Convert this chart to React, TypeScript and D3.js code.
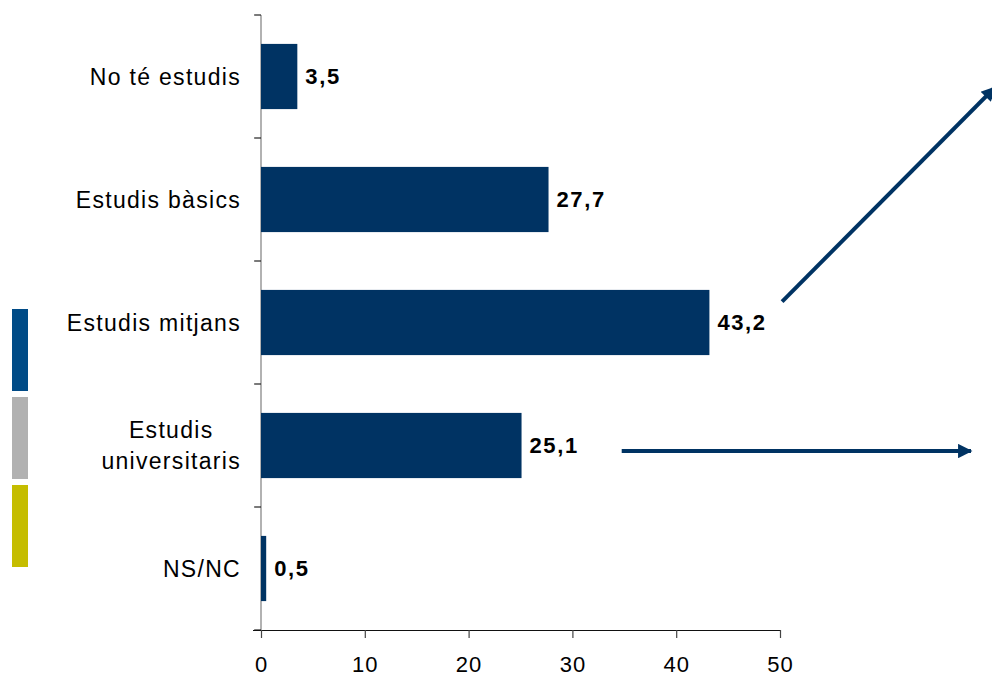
import React, { useEffect, useRef } from "react";
import * as d3 from "d3";

const categories = [
  "No té estudis",
  "Estudis bàsics",
  "Estudis mitjans",
  "Estudis\nuniversitaris",
  "NS/NC",
];
const values = [3.5, 27.7, 43.2, 25.1, 0.5];
const xTicks = [0, 10, 20, 30, 40, 50];
const legendColors = ["#004b87", "#b1b1b1", "#c5bd00"];

export default function App() {
  const ref = useRef<SVGSVGElement>(null);

  useEffect(() => {
    if (!ref.current) return;
    const width = 992;
    const height = 678;
    const margin = { top: 15, right: 212, bottom: 48, left: 261 };
    const chartWidth = width - margin.left - margin.right;
    const chartHeight = height - margin.top - margin.bottom;
    const font = "'Liberation Sans', Arial, sans-serif";
    const barColor = "#003363";

    const root = d3.select(ref.current);
    root.selectAll("*").remove();

    const defs = root.append("defs");
    defs
      .append("marker")
      .attr("id", "arrowHead")
      .attr("viewBox", "0 0 10 10")
      .attr("refX", 9)
      .attr("refY", 5)
      .attr("markerWidth", 4)
      .attr("markerHeight", 3.6)
      .attr("orient", "auto")
      .append("path")
      .attr("d", "M0,0 L10,5 L0,10 z")
      .attr("fill", barColor);

    const svg = root
      .append("g")
      .attr("transform", `translate(${margin.left},${margin.top})`);

    const x = d3.scaleLinear().domain([0, 50]).range([0, chartWidth]);
    const y = d3
      .scaleBand()
      .domain(categories)
      .range([0, chartHeight])
      .paddingInner(0.47)
      .paddingOuter(0.235);

    // left axis: line + ticks between categories
    const yEdges = d3.range(categories.length + 1).map(
      (i) => (i * chartHeight) / categories.length,
    );
    svg
      .append("line")
      .attr("x1", 0)
      .attr("x2", 0)
      .attr("y1", 0)
      .attr("y2", chartHeight)
      .attr("stroke", "#7f7f7f")
      .attr("stroke-width", 1.2);
    svg
      .selectAll(".ytick")
      .data(yEdges)
      .enter()
      .append("line")
      .attr("x1", -7)
      .attr("x2", 0)
      .attr("y1", (d) => d)
      .attr("y2", (d) => d)
      .attr("stroke", "#222")
      .attr("stroke-width", 1.2);

    // bottom axis
    const xAxis = svg
      .append("g")
      .attr("transform", `translate(0,${chartHeight})`)
      .call(d3.axisBottom(x).tickValues(xTicks).tickSize(8).tickPadding(18));
    xAxis
      .select(".domain")
      .attr("stroke", "#111")
      .attr("stroke-width", 1.2)
      .attr("d", `M-8,0.5H${chartWidth}`);
    xAxis.selectAll(".tick line").attr("stroke", "#444").attr("stroke-width", 1.2);
    xAxis
      .selectAll(".tick text")
      .attr("font-family", font)
      .attr("font-size", "22px")
      .attr("letter-spacing", "1px")
      .attr("fill", "#000");

    // category labels
    categories.forEach((c) => {
      const lines = c.split("\n");
      const cy = (y(c) || 0) + y.bandwidth() / 2;
      const t = svg
        .append("text")
        .attr("font-family", font)
        .attr("font-size", "23px")
        .attr("fill", "#000")
        .attr("letter-spacing", "1.3px");
      const lineH = 31;
      lines.forEach((l, i) => {
        t.append("tspan")
          .attr("x", 0)
          .attr("y", cy + (i - (lines.length - 1) / 2) * lineH)
          .attr("dy", "0.35em")
          .text(l);
      });
      // right align the block, center lines within it
      const spans = t.selectAll<SVGTSpanElement, unknown>("tspan").nodes();
      const widths = spans.map((s) => s.getComputedTextLength());
      const maxW = d3.max(widths) || 0;
      spans.forEach((s, i) => {
        d3.select(s).attr("x", -20 - maxW + (maxW - widths[i]) / 2);
      });
    });

    // bars
    svg
      .selectAll(".bar")
      .data(values)
      .enter()
      .append("rect")
      .attr("x", 0)
      .attr("y", (d, i) => y(categories[i]) || 0)
      .attr("width", (d) => x(d))
      .attr("height", y.bandwidth())
      .attr("fill", barColor);

    // value labels
    svg
      .selectAll(".val")
      .data(values)
      .enter()
      .append("text")
      .attr("x", (d) => x(d) + 8)
      .attr("y", (d, i) => (y(categories[i]) || 0) + y.bandwidth() / 2)
      .attr("dy", "0.35em")
      .attr("font-family", font)
      .attr("font-size", "22px")
      .attr("letter-spacing", "1.6px")
      .attr("font-weight", "bold")
      .attr("fill", "#000")
      .text((d) => d3.format(".1f")(d).replace(".", ","));

    // arrows (annotation, in axis units: x value / category index)
    const arrows = [
      { from: [50.2, 2.33], to: [70.7, 0.59] },
      { from: [34.75, 3.545], to: [68.4, 3.545] },
    ];
    const yPos = (v: number) => (v * chartHeight) / categories.length;
    arrows.forEach((a) => {
      svg
        .append("line")
        .attr("x1", x(a.from[0]))
        .attr("y1", yPos(a.from[1]))
        .attr("x2", x(a.to[0]))
        .attr("y2", yPos(a.to[1]))
        .attr("stroke", barColor)
        .attr("stroke-width", 4)
        .attr("marker-end", "url(#arrowHead)");
    });

    // legend swatches
    root
      .append("g")
      .selectAll("rect")
      .data(legendColors)
      .enter()
      .append("rect")
      .attr("x", 12)
      .attr("y", (d, i) => 309 + i * 88)
      .attr("width", 16)
      .attr("height", 82)
      .attr("fill", (d) => d);
  }, []);

  return (
    <svg
      ref={ref}
      width={992}
      height={678}
      style={{ position: "absolute", left: 0, top: 0, background: "#fff" }}
    />
  );
}
